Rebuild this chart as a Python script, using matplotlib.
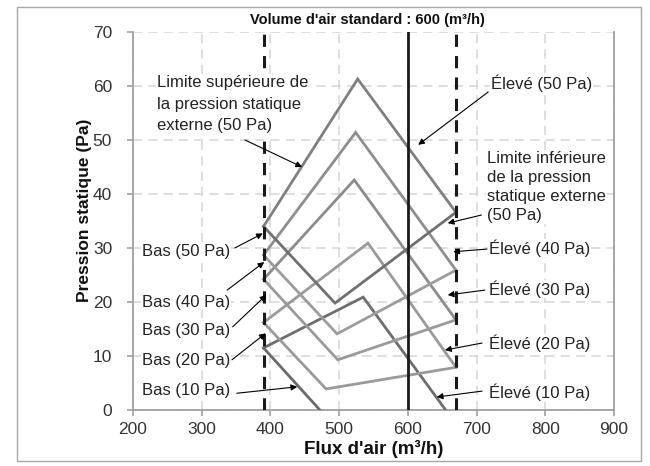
import matplotlib
matplotlib.use("Agg")
import matplotlib.pyplot as plt
from matplotlib.patches import Rectangle

plt.rcParams['font.family'] = ['Liberation Sans', 'DejaVu Sans']

# ---- data ----
niveaux = ["10 Pa", "20 Pa", "30 Pa", "40 Pa", "50 Pa"]
x_limite_sup = 390     # limite supérieure (Bas)
x_limite_inf = 670     # limite inférieure (Élevé)
x_standard = 600

# rising-then-falling curves (^) : start, peak, end
haut_x = [[390, 535, 655], [390, 542, 670], [390, 522, 670], [390, 524, 670], [390, 527, 670]]
haut_y = [[11.5, 20.9, 0.0], [16.2, 30.9, 7.9], [24.2, 42.6, 16.7], [28.7, 51.4, 25.9], [34.0, 61.3, 36.6]]
# falling-then-rising curves (V) : start, trough, end
bas_x = [[390, 472], [390, 481, 670], [390, 498, 670], [390, 497, 670], [390, 494, 670]]
bas_y = [[11.5, 0.0], [16.2, 3.9, 7.9], [24.2, 9.3, 16.7], [28.7, 14.1, 25.9], [34.0, 19.8, 36.6]]

couleurs_haut = ['#6e6e6e', '#9a9a9a', '#8c8c8c', '#8e8e8e', '#808080']
couleurs_bas = ['#6a6a6a', '#9a9a9a', '#9a9a9a', '#9c9c9c', '#707070']

x_ticks = [200, 300, 400, 500, 600, 700, 800, 900]
y_ticks = [0, 10, 20, 30, 40, 50, 60, 70]

# annotations: text, text position, arrow tail, arrow tip
labels_bas = ["Bas (50 Pa)", "Bas (40 Pa)", "Bas (30 Pa)", "Bas (20 Pa)", "Bas (10 Pa)"]
pos_bas = [(213, 29.3), (213, 20.0), (213, 14.8), (213, 9.1), (213, 3.7)]
queue_bas = [(348, 30.0), (337, 22.2), (345, 15.4), (344, 9.3), (351, 3.1)]
pointe_bas = [(389, 32.7), (391, 27.4), (394, 21.3), (393, 14.2), (439, 4.3)]

labels_eleve = ["Élevé (50 Pa)", "Élevé (40 Pa)", "Élevé (30 Pa)", "Élevé (20 Pa)", "Élevé (10 Pa)"]
pos_eleve = [(721, 60.6), (718, 30.0), (718, 22.4), (718, 12.4), (718, 3.3)]
queue_eleve = [(717, 58.9), (715, 29.8), (712, 22.2), (708, 12.4), (708, 3.5)]
pointe_eleve = [(615, 49.1), (666, 29.3), (658, 21.3), (654, 11.1), (642, 2.4)]

label_inf = "Limite inférieure\nde la pression\nstatique externe\n(50 Pa)"
pos_inf = (715, 46.9)
queue_inf = (707, 36.1)
pointe_inf = (658, 34.6)

label_sup = "Limite supérieure de\nla pression statique\nexterne (50 Pa)"
pos_sup = (235, 60.9)
queue_sup = (363, 50.0)
pointe_sup = (446, 45.0)

# ---- figure ----
W, H = 650, 466
fig = plt.figure(figsize=(W / 100, H / 100), dpi=100)
fig.patches.append(Rectangle((17 / W, 1 - 461 / H), (641 - 17) / W, (461 - 7) / H,
                             transform=fig.transFigure, fill=False,
                             edgecolor='#a6a6a6', lw=1.0))
ax = fig.add_axes([133 / W, 1 - 410 / H, (614 - 133) / W, (410 - 32) / H])

ax.set_xlim(200, 900)
ax.set_ylim(0, 70)
ax.set_xticks(x_ticks)
ax.set_yticks(y_ticks)
ax.grid(True, linestyle=(0, (6, 4)), color='#d4d4d4', lw=1.1)
ax.set_axisbelow(True)
for s in ['left', 'bottom', 'right']:
    ax.spines[s].set_color('#a0a0a0')
    ax.spines[s].set_linewidth(1.3)
ax.spines['top'].set_visible(False)
ax.tick_params(direction='out', length=4, color='#a0a0a0', width=1.2,
               labelsize=12.5, labelcolor='#333333')
ax.tick_params(axis='y', pad=11)
ax.tick_params(axis='x', pad=5)

for xs, ys, c in zip(haut_x, haut_y, couleurs_haut):
    ax.plot(xs, ys, color=c, lw=2.0, solid_joinstyle='miter', zorder=3)
for xs, ys, c in zip(bas_x, bas_y, couleurs_bas):
    ax.plot(xs, ys, color=c, lw=2.0, solid_joinstyle='miter', zorder=3)

ax.axvline(x_limite_sup, color='#1a1a1a', lw=2.2, linestyle=(0, (4, 3)), zorder=4)
ax.axvline(x_limite_inf, color='#1a1a1a', lw=2.2, linestyle=(0, (4, 3)), zorder=4)
ax.axvline(x_standard, color='#1a1a1a', lw=2.0, zorder=4)

arrow_kw = dict(arrowstyle='-|>', color='black', lw=0.8, mutation_scale=9,
                shrinkA=0, shrinkB=0)
FS = 12
box = dict(facecolor='white', edgecolor='none', pad=0.5)

for t, p, q, tip in zip(labels_bas, pos_bas, queue_bas, pointe_bas):
    ax.text(p[0], p[1], t, fontsize=FS, color='#222222', va='center', ha='left',
            zorder=6, bbox=box)
    ax.annotate('', xy=tip, xytext=q, arrowprops=arrow_kw, zorder=7)

for t, p, q, tip in zip(labels_eleve, pos_eleve, queue_eleve, pointe_eleve):
    ax.text(p[0], p[1], t, fontsize=FS, color='#222222', va='center', ha='left',
            zorder=6, bbox=box)
    ax.annotate('', xy=tip, xytext=q, arrowprops=arrow_kw, zorder=7)

ax.text(pos_inf[0], pos_inf[1] + 1.05, label_inf, fontsize=FS, color='#222222',
        va='top', ha='left', linespacing=1.33, zorder=6, bbox=box)
ax.annotate('', xy=pointe_inf, xytext=queue_inf, arrowprops=arrow_kw, zorder=7)

ax.text(pos_sup[0], pos_sup[1] + 1.05, label_sup, fontsize=FS, color='#222222',
        va='top', ha='left', linespacing=1.52, zorder=6, bbox=box)
ax.annotate('', xy=pointe_sup, xytext=queue_sup, arrowprops=arrow_kw, zorder=7)

fig.text(367 / W, 1 - 20 / H, "Volume d'air standard : 600 (m³/h)", ha='center',
         va='center', fontsize=10.5, fontweight='bold', color='#111111')
fig.text(374 / W, 1 - 449 / H, "Flux d'air (m³/h)", ha='center', va='center',
         fontsize=13.5, fontweight='bold', color='#111111')
fig.text(84 / W, 1 - 210 / H, "Pression statique (Pa)", ha='center', va='center',
         rotation=90, fontsize=12.5, fontweight='bold', color='#111111')

fig.savefig('out.png', dpi=100)
